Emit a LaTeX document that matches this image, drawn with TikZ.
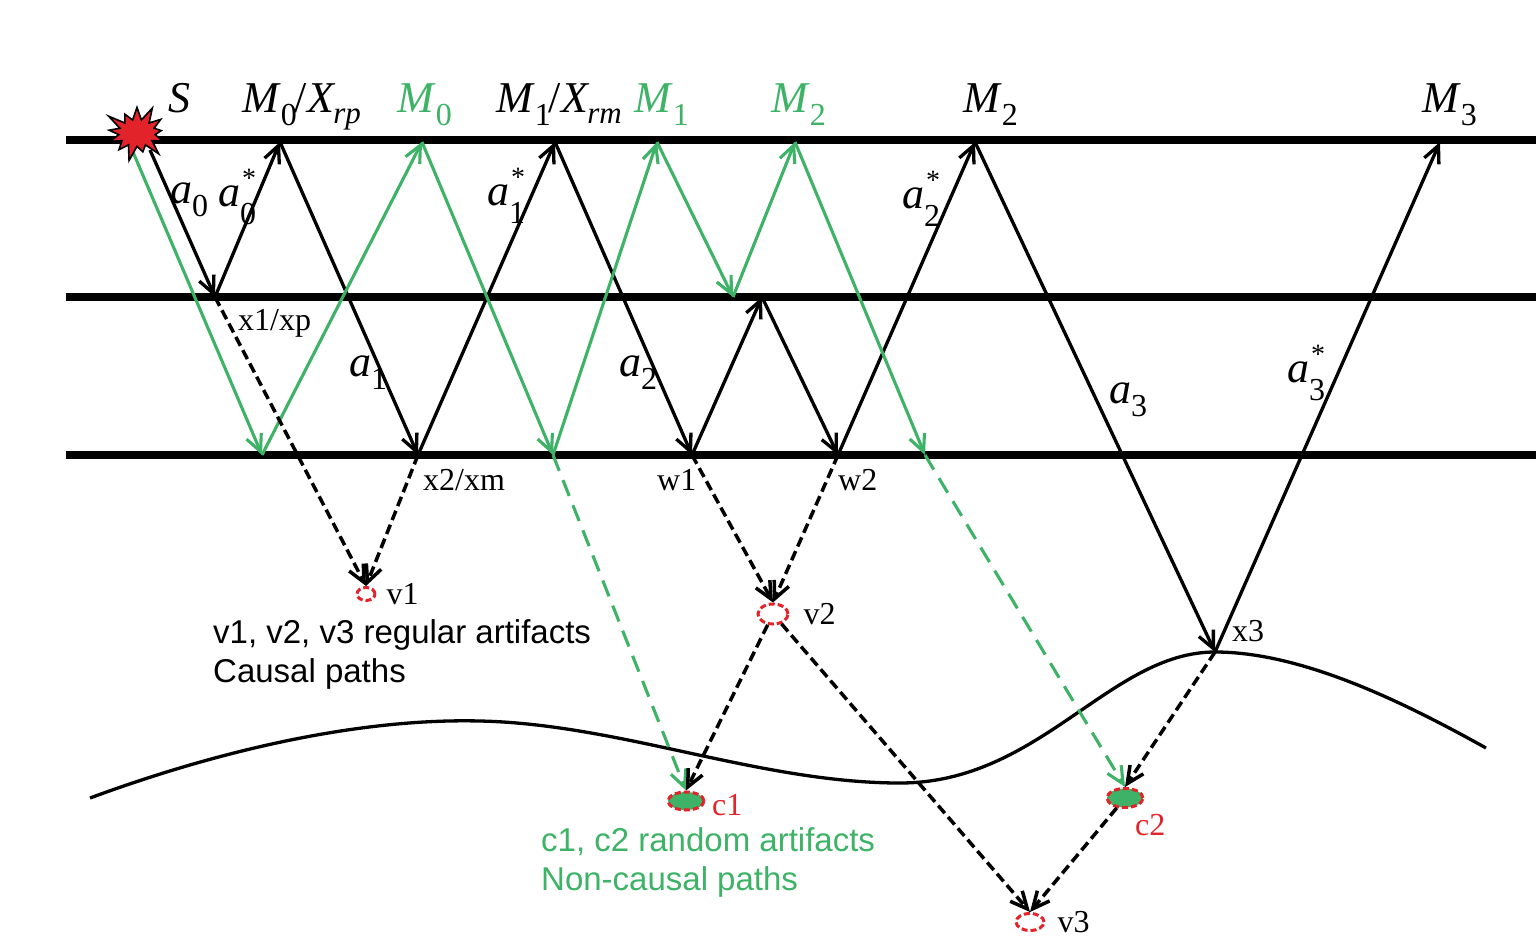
\documentclass[tikz,border=0pt]{standalone}
\usepackage{fontspec}
\setmainfont{Liberation Serif}
\setsansfont{Liberation Sans}
\usetikzlibrary{arrows.meta,positioning,shapes.geometric,shapes.symbols}

\definecolor{raygreen}{RGB}{62,178,102}
\definecolor{spotred}{RGB}{226,36,42}
% italic letter with a large, low index
\newcommand{\sub}[2]{\textit{#1}\raisebox{-13pt}{\fontsize{32}{32}\selectfont #2}}
\newcommand{\subit}[2]{\textit{#1}\kern-2pt\raisebox{-11pt}{\fontsize{31}{31}\selectfont\itshape #2}}
\newcommand{\substar}[2]{\textit{#1}\rlap{\raisebox{19pt}{\fontsize{28}{28}\selectfont\kern2pt*}}\raisebox{-18pt}{\fontsize{32}{32}\selectfont #2}}

\begin{document}
\begin{tikzpicture}[x=1pt,y=-1pt,>={Straight Barb[length=17pt,width=16pt]},
  layer/.style={line width=7.5pt},
  ray/.style={->,line width=3.3pt},
  greenray/.style={->,raygreen,line width=3.1pt},
  ghost/.style={->,line width=3.5pt,dash pattern=on 10pt off 5pt},
  greenghost/.style={->,raygreen,line width=3.1pt,dash pattern=on 17pt off 10pt},
  spot/.style={ellipse,draw=spotred,line width=3pt,dash pattern=on 6pt off 3pt,inner sep=0pt},
  mlab/.style={font=\fontsize{44}{48}\selectfont,anchor=base west,inner sep=0pt},
  plab/.style={font=\fontsize{32}{36}\selectfont,anchor=base west,inner sep=0pt},
  note/.style={font=\sffamily\fontsize{33}{39}\selectfont,anchor=base west,inner sep=0pt}]

  \useasboundingbox (0,0) rectangle (1536,945);

  % layers
  \draw[layer] (66,140) -- (1536,140);
  \draw[layer] (66,297) -- (1536,297);
  \draw[layer] (66,455) -- (1536,455);

  % interface
  \draw[line width=3.3pt] (90,798) .. controls (220,750) and (360,718) .. (480,721)
    .. controls (620,724) and (760,783) .. (900,783)
    .. controls (1040,783) and (1110,652) .. (1215,652)
    .. controls (1300,652) and (1400,700) .. (1486,748);

  % reflection points
  \coordinate (s0) at (150,150);
  \coordinate (x1) at (215,297);
  \coordinate (m0) at (280,142);
  \coordinate (x2) at (418,455);
  \coordinate (m1) at (555,142);
  \coordinate (w1) at (692,455);
  \coordinate (r1) at (762,297);
  \coordinate (w2) at (838,455);
  \coordinate (m2) at (975,142);
  \coordinate (x3) at (1215,652);
  \coordinate (m3) at (1440,142);

  \coordinate (g0) at (133,152);
  \coordinate (g1) at (262,455);
  \coordinate (g2) at (422,142);
  \coordinate (g3) at (553,455);
  \coordinate (g4) at (657,142);
  \coordinate (g5) at (733,297);
  \coordinate (g6) at (795,142);
  \coordinate (g7) at (925,455);

  % artifacts
  \node[spot,minimum width=18pt,minimum height=13pt] (v1) at (366,594) {};
  \node[spot,minimum width=30pt,minimum height=20pt] (v2) at (773,614) {};
  \node[spot,minimum width=28pt,minimum height=17pt] (v3) at (1030,922) {};
  \node[spot,fill=raygreen,minimum width=36pt,minimum height=18pt] (c1) at (686,801) {};
  \node[spot,fill=raygreen,minimum width=36pt,minimum height=19pt] (c2) at (1125,798) {};

  \path[ray]
    (s0) edge (x1) (x1) edge (m0) (m0) edge (x2) (x2) edge (m1)
    (m1) edge (w1) (w1) edge (r1) (r1) edge (w2) (w2) edge (m2)
    (m2) edge (x3) (x3) edge (m3);

  \path[greenray]
    (g0) edge (g1) (g1) edge (g2) (g2) edge (g3) (g3) edge (g4)
    (g4) edge (g5) (g5) edge (g6) (g6) edge (g7);

  \path[greenghost]
    (g3) edge (c1.north) (g7) edge (c2.north);

  \path[ghost]
    (x1) edge (v1.north) (x2) edge (v1.north)
    (w1) edge (v2.north) (w2) edge (v2.north)
    (v2) edge (c1.north) (v2) edge (v3.north)
    (x3) edge (c2.north) (c2) edge (v3.north);

  \node[starburst,starburst points=13,starburst point height=14pt,fill=spotred,draw=black,
    line width=1.6pt,minimum width=58pt,minimum height=50pt,inner sep=0pt,
    scale=1.22,transform shape] (S) at (137,133) {};

  % labels
  \node[mlab] (lS) at (168,112) {\textit{S}};
  \node[mlab] (lm0) at (242,112) {\sub{M}{0}\kern-2pt/\subit{X}{rp}};
  \node[mlab,raygreen] (lg0) at (397,112) {\sub{M}{0}};
  \node[mlab] (lm1) at (496,112) {\sub{M}{1}\kern-2pt/\subit{X}{rm}};
  \node[mlab,raygreen] (lg1) at (634,112) {\sub{M}{1}};
  \node[mlab,raygreen] (lg2) at (771,112) {\sub{M}{2}};
  \node[mlab] (lm2) at (963,112) {\sub{M}{2}};
  \node[mlab] (lm3) at (1422,112) {\sub{M}{3}};

  \node[mlab] (la0) at (170,203) {\sub{a}{0}};
  \node[mlab] (la0s) at (218,206) {\substar{a}{0}};
  \node[mlab] (la1s) at (487,205) {\substar{a}{1}};
  \node[mlab] (la2s) at (902,208) {\substar{a}{2}};
  \node[mlab] (la1) at (349,376) {\sub{a}{1}};
  \node[mlab] (la2) at (619,376) {\sub{a}{2}};
  \node[mlab] (la3) at (1109,403) {\sub{a}{3}};
  \node[mlab] (la3s) at (1287,382) {\substar{a}{3}};

  \node[plab] (lx1) at (238,330) {x1/xp};
  \node[plab] (lx2) at (423,490) {x2/xm};
  \node[plab] (lw1) at (657,490) {w1};
  \node[plab] (lw2) at (838,490) {w2};
  \node[plab] (lx3) at (1232,641) {x3};
  \node[plab,right=10pt of v1.east,anchor=west] (lv1) {v1};
  \node[plab,right=14pt of v2.east,anchor=west] (lv2) {v2};
  \node[plab,right=12pt of v3.east,anchor=west] (lv3) {v3};
  \node[plab,spotred] (lc1) at (712,815) {c1};
  \node[plab,spotred] (lc2) at (1135,835) {c2};

  \node[note] (causal1) at (213,643) {v1, v2, v3 regular artifacts};
  \node[note] (causal2) at (213,682) {Causal paths};
  \node[note,raygreen] (noncausal1) at (541,851) {c1, c2 random artifacts};
  \node[note,raygreen] (noncausal2) at (541,890) {Non-causal paths};
\end{tikzpicture}
\end{document}
